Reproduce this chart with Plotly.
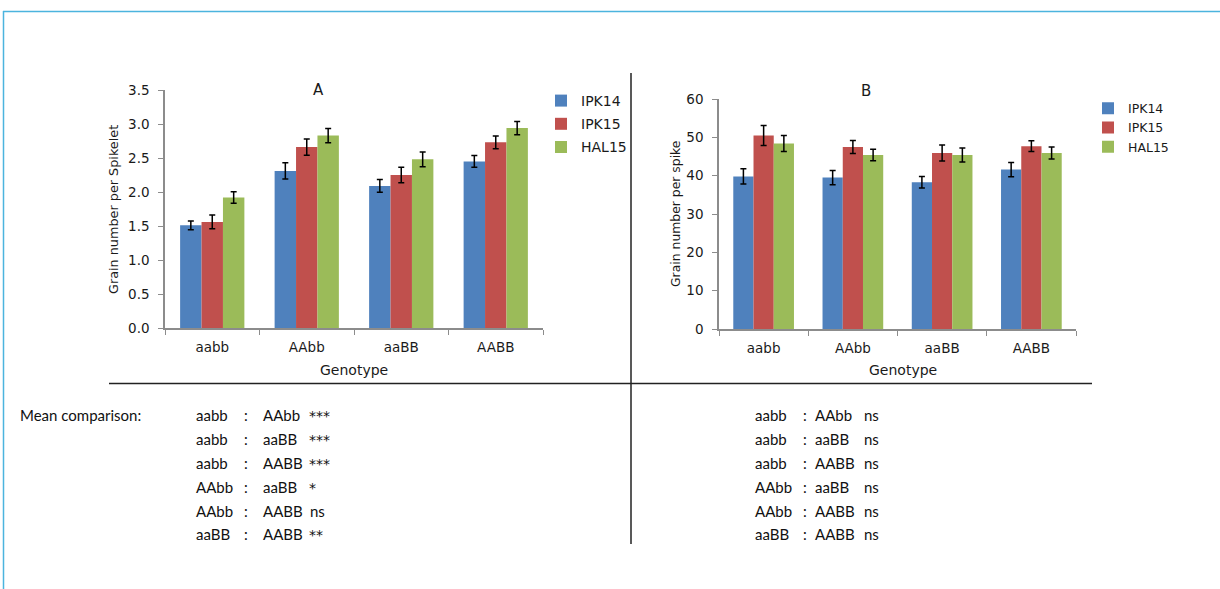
import plotly.graph_objects as go

W, H = 1220, 589

genotypes = ["aabb", "AAbb", "aaBB", "AABB"]
series = ["IPK14", "IPK15", "HAL15"]
colors = ["#4F81BD", "#C0504D", "#9BBB59"]

# Panel A: grain number per spikelet
a_ipk14 = [1.51, 2.31, 2.09, 2.45]
a_ipk15 = [1.56, 2.66, 2.25, 2.73]
a_hal15 = [1.92, 2.83, 2.48, 2.94]
a_err_ipk14 = [0.065, 0.12, 0.093, 0.085]
a_err_ipk15 = [0.10, 0.12, 0.115, 0.095]
a_err_hal15 = [0.085, 0.105, 0.11, 0.098]

# Panel B: grain number per spike
b_ipk14 = [39.8, 39.5, 38.3, 41.6]
b_ipk15 = [50.5, 47.5, 45.9, 47.7]
b_hal15 = [48.4, 45.4, 45.4, 45.9]
b_err_ipk14 = [2.0, 1.85, 1.5, 1.85]
b_err_ipk15 = [2.6, 1.7, 2.1, 1.4]
b_err_hal15 = [2.1, 1.5, 1.85, 1.55]

# Mean comparison tables
cmp_left = ["aabb", "aabb", "aabb", "AAbb", "AAbb", "aaBB"]
cmp_right = ["AAbb", "aaBB", "AABB", "aaBB", "AABB", "AABB"]
sig_a = ["***", "***", "***", "*", "ns", "**"]
sig_b = ["ns", "ns", "ns", "ns", "ns", "ns"]


def px(x):
    return x / W


def py(y):
    return 1 - y / H


fig = go.Figure()

a_vals = [a_ipk14, a_ipk15, a_hal15]
a_errs = [a_err_ipk14, a_err_ipk15, a_err_hal15]
b_vals = [b_ipk14, b_ipk15, b_hal15]
b_errs = [b_err_ipk14, b_err_ipk15, b_err_hal15]

for i, name in enumerate(series):
    fig.add_trace(go.Bar(
        x=genotypes, y=a_vals[i], name=name, marker_color=colors[i],
        marker_line_width=0,
        error_y=dict(type="data", array=a_errs[i], color="black", thickness=1.5, width=3),
        xaxis="x", yaxis="y", legend="legend", legendgroup="a" + name,
    ))
for i, name in enumerate(series):
    fig.add_trace(go.Bar(
        x=genotypes, y=b_vals[i], name=name, marker_color=colors[i],
        marker_line_width=0,
        error_y=dict(type="data", array=b_errs[i], color="black", thickness=1.5, width=3),
        xaxis="x2", yaxis="y2", legend="legend2", legendgroup="b" + name,
    ))

tick_font = dict(family="DejaVu Sans", size=13.5, color="#1a1a1a")
axis_common = dict(showline=True, linecolor="#8C8C8C", linewidth=1.5, ticks="outside",
                   tickcolor="#8C8C8C", ticklen=5, tickwidth=1, showgrid=False,
                   zeroline=False, tickfont=tick_font, ticklabelstandoff=6)

fig.update_layout(
    width=W, height=H, margin=dict(l=0, r=0, t=0, b=0, autoexpand=False),
    paper_bgcolor="white", plot_bgcolor="white",
    barmode="group", bargap=0.32, bargroupgap=0,
    xaxis=dict(domain=[px(165), px(543)], anchor="y", type="category",
               tickson="boundaries", **axis_common),
    yaxis=dict(domain=[py(328), py(90)], anchor="x", range=[0, 3.5], dtick=0.5,
               tickformat=".1f", **axis_common),
    xaxis2=dict(domain=[px(719), px(1076)], anchor="y2", type="category",
                tickson="boundaries", **axis_common),
    yaxis2=dict(domain=[py(329), py(99)], anchor="x2", range=[0, 60], dtick=10,
                **axis_common),
    legend=dict(x=px(541), y=py(85), xanchor="left", yanchor="top",
                font=dict(family="DejaVu Sans", size=14, color="#1a1a1a"),
                tracegroupgap=2, bgcolor="rgba(0,0,0,0)"),
    legend2=dict(x=px(1088), y=py(93.5), xanchor="left", yanchor="top",
                 font=dict(family="DejaVu Sans", size=12.5, color="#1a1a1a"),
                 tracegroupgap=0, bgcolor="rgba(0,0,0,0)"),
    showlegend=True,
)

ann = []


def add_text(x, y, text, font, xanchor="left", angle=0):
    ann.append(dict(x=px(x), y=py(y), xref="paper", yref="paper", text=text,
                    showarrow=False, xanchor=xanchor, yanchor="middle",
                    textangle=angle, font=font))


lab_font = dict(family="DejaVu Sans", size=12.8, color="#1a1a1a")
lab_font_b = dict(family="DejaVu Sans", size=12.4, color="#1a1a1a")
gen_font = dict(family="DejaVu Sans", size=14, color="#1a1a1a")
title_font = dict(family="DejaVu Sans", size=15, color="#1a1a1a")
add_text(318, 90, "A", title_font, "center")
add_text(866, 91, "B", title_font, "center")
add_text(113, 210, "Grain number per Spikelet", lab_font, "center", -90)
add_text(675, 214, "Grain number per spike", lab_font_b, "center", -90)
add_text(354, 370, "Genotype", gen_font, "center")
add_text(903, 370, "Genotype", gen_font, "center")

txt_font = dict(family="Lato", size=15, color="#111")
star_font = dict(family="DejaVu Sans", size=14, color="#111")
add_text(18, 415, "Mean comparison:", txt_font)
row_y = [415, 439, 463, 487, 511, 534]
for i in range(6):
    for xx, t in [(194, cmp_left[i]), (242, ":"), (261, cmp_right[i]),
                  (753, cmp_left[i]), (801, ":"), (813, cmp_right[i]), (862, sig_b[i])]:
        add_text(xx, row_y[i], t, txt_font)
    if "*" in sig_a[i]:
        add_text(307, row_y[i] + 1, sig_a[i], star_font)
    else:
        add_text(308, row_y[i], sig_a[i], txt_font)
fig.update_layout(annotations=ann)

# Frame lines
shapes = [
    dict(type="line", xref="paper", yref="paper", x0=px(3), x1=px(1220), y0=py(11.5), y1=py(11.5),
         line=dict(color="#4BB4DE", width=1.5)),
    dict(type="line", xref="paper", yref="paper", x0=px(3.5), x1=px(3.5), y0=py(11), y1=py(589),
         line=dict(color="#4BB4DE", width=1.5)),
    dict(type="line", xref="paper", yref="paper", x0=px(631), x1=px(631), y0=py(73), y1=py(544),
         line=dict(color="#222", width=1.5)),
    dict(type="line", xref="paper", yref="paper", x0=px(109), x1=px(1092), y0=py(383.5), y1=py(383.5),
         line=dict(color="#222", width=1.5)),
]
fig.update_layout(shapes=shapes)

fig.write_html("out.html", config={"displayModeBar": False},
               post_script="document.body.style.margin='0';document.body.style.overflow='hidden';")
